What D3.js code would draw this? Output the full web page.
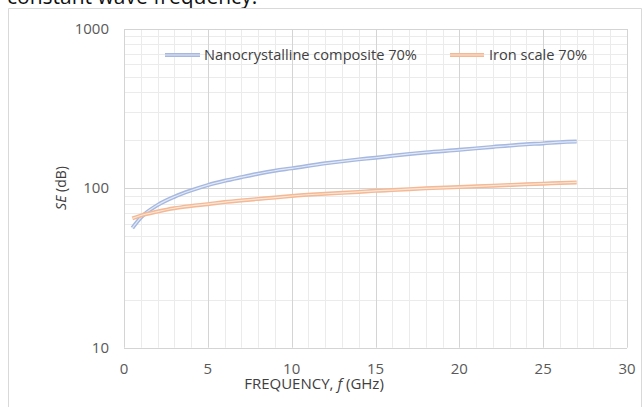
<!DOCTYPE html>
<html><head><meta charset="utf-8">
<script src="https://cdn.jsdelivr.net/npm/d3@7"></script>
<style>body{margin:0;background:#fff}svg{display:block}text{font-family:"Open Sans",sans-serif}</style>
</head><body><svg id="c" width="644" height="407"></svg>
<script>
const freq = [0.5,1,2,3,4,5,6,7,8,9,10,12,14,15,16,18,20,22,24,25,26,27];
const nano = [56.4,65.5,78.5,88.5,97,104.8,111.5,117.5,123.5,129,133.5,143.5,152,155.6,160,168,174.5,182,189,191.5,195,196.5];
const iron = [64.8,67.5,71.5,75,77.5,79.6,82,84,85.8,87.5,89.5,92.5,95,96.5,97.5,100,101.8,104,106,107,108,109];
const seriesNames = ["Nanocrystalline composite 70%","Iron scale 70%"];
const xTicks = [0,5,10,15,20,25,30];
const yTicks = [10,100,1000];

const svg = d3.select("#c");
const W=644,H=407;
svg.append("rect").attr("width",W).attr("height",H).attr("fill","#fff");
svg.append("text").attr("x",7).attr("y",4).attr("font-size",21).attr("fill","#111").text("constant wave frequency.");
svg.append("path").attr("d","M8.5,420V8.5H641.5V420").attr("fill","none").attr("stroke","#d9d9d9");

const x = d3.scaleLinear().domain([0,30]).range([124,627]);
const y = d3.scaleLog().domain([10,1000]).range([347.7,29]);

const g = svg.append("g");
const minorY=[];
[10,100].forEach(d=>{for(let k=2;k<=9;k++)minorY.push(d*k);});
g.selectAll(".my").data(minorY).join("line").attr("x1",x(0)).attr("x2",x(30))
 .attr("y1",d=>Math.round(y(d))+0.5).attr("y2",d=>Math.round(y(d))+0.5).attr("stroke","#ebebeb");
g.selectAll(".mx").data(d3.range(0,31).filter(d=>d%5)).join("line").attr("y1",y(10)).attr("y2",y(1000))
 .attr("x1",d=>Math.round(x(d))+0.5).attr("x2",d=>Math.round(x(d))+0.5).attr("stroke","#ebebeb");
g.selectAll(".My").data(yTicks).join("line").attr("x1",x(0)).attr("x2",x(30))
 .attr("y1",d=>Math.round(y(d))+0.5).attr("y2",d=>Math.round(y(d))+0.5).attr("stroke","#d4d4d4");
g.selectAll(".Mx").data(xTicks).join("line").attr("y1",y(10)).attr("y2",y(1000))
 .attr("x1",d=>Math.round(x(d))+0.5).attr("x2",d=>Math.round(x(d))+0.5).attr("stroke","#d4d4d4");

g.selectAll(".yl").data(yTicks).join("text").attr("x",109).attr("y",d=>y(d)+5).attr("text-anchor","end")
 .attr("font-size",15).attr("fill","#595959").text(d=>d);
g.selectAll(".xl").data(xTicks).join("text").attr("x",d=>x(d)).attr("y",374).attr("text-anchor","middle")
 .attr("font-size",15).attr("fill","#595959").text(d=>d);

const xt = svg.append("text").attr("x",314).attr("y",389).attr("text-anchor","middle").attr("font-size",15).attr("fill","#404040");
xt.append("tspan").text("FREQUENCY, ");
xt.append("tspan").attr("font-style","italic").text("f");
xt.append("tspan").text(" (GHz)");
const yt = svg.append("text").attr("transform","translate(66,188) rotate(-90)").attr("text-anchor","middle").attr("font-size",14).attr("fill","#404040");
yt.append("tspan").attr("font-style","italic").text("SE");
yt.append("tspan").text(" (dB)");

const cols=[{o:"#a6b8e0",i:"#e3e9f6"},{o:"#f3b894",i:"#fce6d8"}];
const line = d3.line().x(d=>x(d[0])).y(d=>y(d[1])).curve(d3.curveMonotoneX);
[nano,iron].forEach((s,k)=>{
  const pts = freq.map((f,i)=>[f,s[i]]);
  svg.append("path").attr("d",line(pts)).attr("fill","none").attr("stroke",cols[k].o).attr("stroke-width",4);
  svg.append("path").attr("d",line(pts)).attr("fill","none").attr("stroke",cols[k].i).attr("stroke-width",1.2);
});

const leg=[{x0:165,x1:200,tx:204},{x0:450,x1:484,tx:489}];
leg.forEach((l,k)=>{
  svg.append("line").attr("x1",l.x0).attr("x2",l.x1).attr("y1",55).attr("y2",55).attr("stroke",cols[k].o).attr("stroke-width",4);
  svg.append("line").attr("x1",l.x0).attr("x2",l.x1).attr("y1",55).attr("y2",55).attr("stroke",cols[k].i).attr("stroke-width",1.2);
  svg.append("text").attr("x",l.tx).attr("y",60).attr("font-size",14.6).attr("fill","#404040").text(seriesNames[k]);
});
</script></body></html>
